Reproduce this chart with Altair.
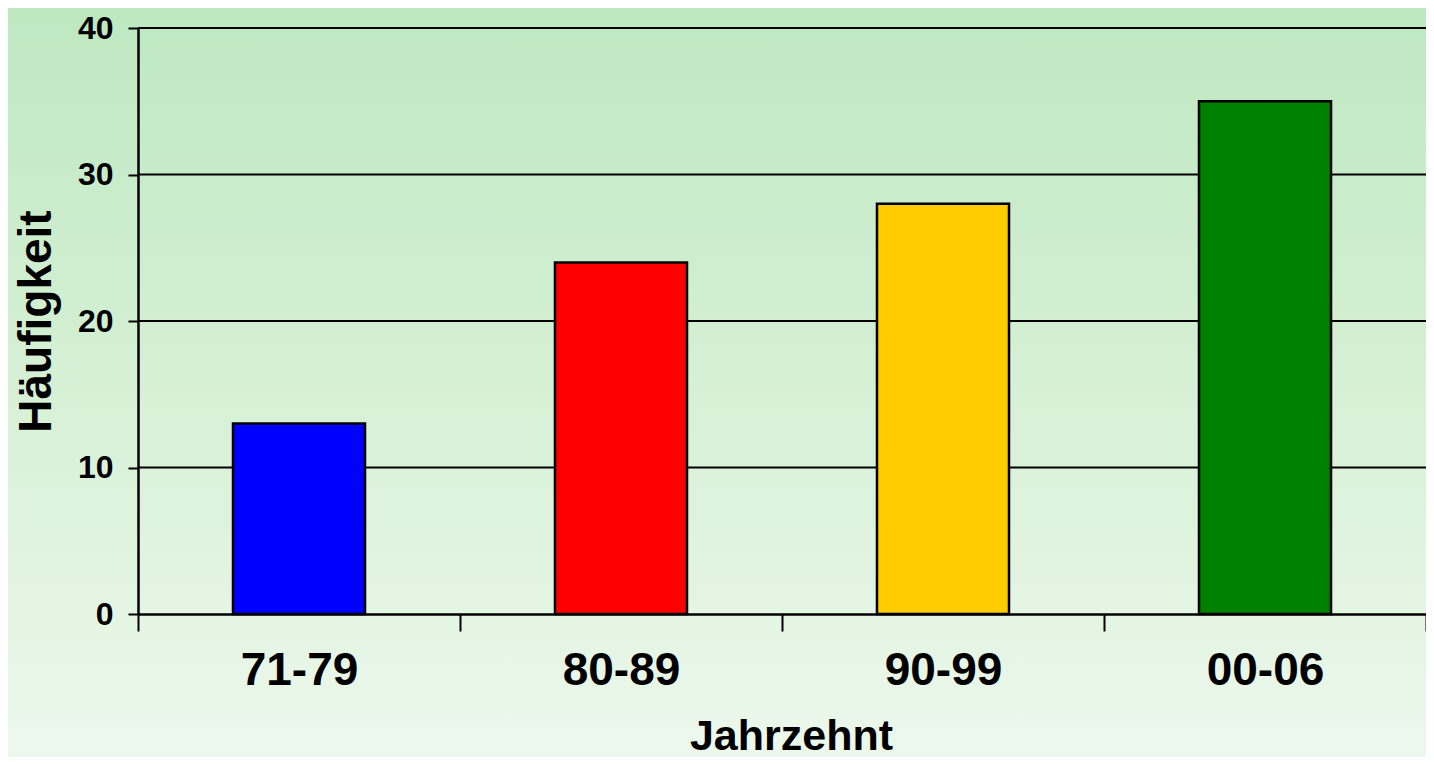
import altair as alt
import pandas as pd

# Data
categories = ["71-79", "80-89", "90-99", "00-06"]
values = [13, 24, 28, 35]
bar_colors = ["#0000FF", "#FF0000", "#FFCC00", "#008000"]
grid_values = [10, 20, 30, 40]
y_ticks = [0, 10, 20, 30, 40]

W = 1288
H = 586
PAD_L, PAD_T, PAD_R, PAD_B = 130, 20, 0, 143

FONT = "Liberation Sans"

df = pd.DataFrame({"Jahrzehnt": categories, "Häufigkeit": values})
grid_df = pd.DataFrame({"Häufigkeit": grid_values})

y_scale = alt.Scale(domain=[0, 40], nice=False)
x_scale = alt.Scale(domain=categories, paddingInner=0, paddingOuter=0)

y_axis = alt.Axis(
    title="Häufigkeit",
    values=y_ticks,
    grid=False,
    tickSize=10,
    tickWidth=2,
    tickColor="black",
    domain=True,
    domainColor="black",
    domainWidth=2.5,
    labelFont=FONT,
    labelFontSize=32,
    labelFontWeight="bold",
    labelColor="black",
    labelPadding=15,
    titleFont=FONT,
    titleFontSize=46,
    titleFontWeight="bold",
    titleColor="black",
    titleAngle=270,
    titleBaseline="alphabetic",
    titleAlign="center",
    titleX=-88,
    titleY=H / 2,
    zindex=1,
)

x_axis = alt.Axis(
    title="Jahrzehnt",
    labelAngle=0,
    tickBand="extent",
    tickSize=17,
    tickWidth=2,
    tickColor="black",
    domainColor="black",
    domainWidth=2.5,
    labelFont=FONT,
    labelFontSize=46,
    labelFontWeight="bold",
    labelColor="black",
    labelPadding=17,
    titleFont=FONT,
    titleFontSize=43,
    titleFontWeight="bold",
    titleColor="black",
    titleBaseline="alphabetic",
    titleX=653,
    titleY=135,
    titleAlign="center",
    zindex=1,
)

bg = alt.Chart(pd.DataFrame({"a": [0]})).mark_rect(
    fill=alt.LinearGradient(
        gradient="linear",
        stops=[
            alt.GradientStop(color="#bde8c0", offset=0),
            alt.GradientStop(color="#d6f0d5", offset=0.5),
            alt.GradientStop(color="#ecf8ec", offset=1),
        ],
        x1=0, x2=0, y1=0, y2=1,
    ),
    strokeWidth=0,
).encode(
    x=alt.value(-PAD_L),
    x2=alt.value(W + PAD_R),
    y=alt.value(-PAD_T),
    y2=alt.value(H + PAD_B),
)

grid = alt.Chart(grid_df).mark_rule(color="black", strokeWidth=2).encode(
    y=alt.Y("Häufigkeit:Q", scale=y_scale, axis=y_axis),
    x=alt.value(0),
    x2=alt.value(W),
)

bars = alt.Chart(df).mark_bar(
    stroke="black", strokeWidth=2.5, width=alt.RelativeBandSize(0.41)
).encode(
    x=alt.X("Jahrzehnt:N", sort=categories, scale=x_scale, axis=x_axis),
    y=alt.Y("Häufigkeit:Q", scale=y_scale, axis=y_axis),
    color=alt.Color(
        "Jahrzehnt:N",
        scale=alt.Scale(domain=categories, range=bar_colors),
        legend=None,
    ),
)

chart = alt.layer(bg, grid, bars).properties(
    width=W,
    height=H,
    autosize=alt.AutoSizeParams(type="none"),
    padding={"left": PAD_L, "top": PAD_T, "right": PAD_R, "bottom": PAD_B},
    background="#d4efd4",
).configure_view(stroke=None, fill=None)

chart.save("out.html", embed_options={"renderer": "svg", "actions": False})
